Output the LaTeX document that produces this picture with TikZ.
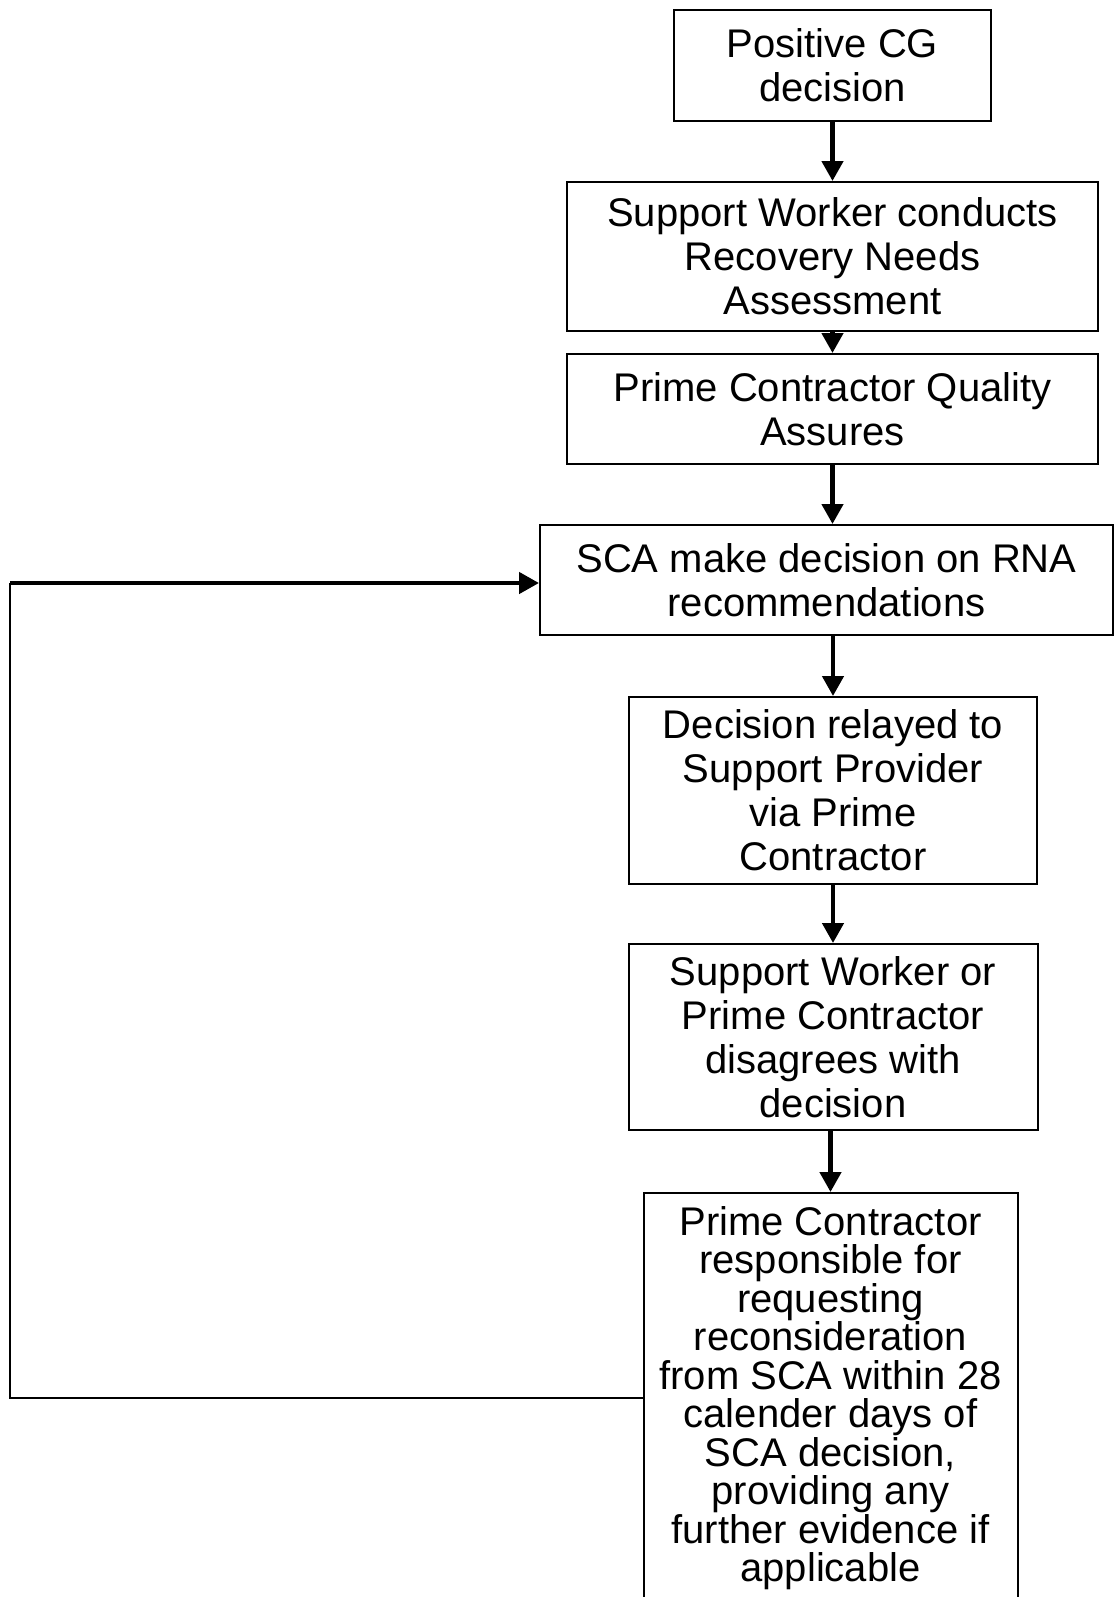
\documentclass[tikz,border=0pt]{standalone}
\usepackage{fontspec}
\setmainfont{Liberation Sans}
\usetikzlibrary{arrows.meta,positioning}

\begin{document}
\begin{tikzpicture}[x=0.5pt,y=-0.5pt,node distance=30pt]
\tikzstyle{step box}=[rectangle,draw,line width=1pt,align=center,inner sep=2pt,font=\fontsize{20}{22}\selectfont]
\tikzstyle{long box}=[step box,font=\fontsize{20}{19.25}\selectfont]

\tikzset{
	flow/.style={line width=2.25pt,-{Triangle[length=10pt,width=10.5pt]}},
	back line/.style={line width=1.2pt}
}
\useasboundingbox (0,0) rectangle (1116,1597);

      \node[step box,minimum width=158.5pt,minimum height=55.5pt] (cg) at (832.5,65.5) {Positive CG\\decision};
      \node[step box,minimum width=265.5pt,minimum height=74.5pt] (rna) [below=29.5pt of cg] {Support Worker conducts\\Recovery Needs\\Assessment};
      \node[step box,minimum width=265.5pt,minimum height=55pt] (qa) [below=10.5pt of rna] {Prime Contractor Quality\\Assures};
      \node[step box,minimum width=286.5pt,minimum height=55pt] (sca) [below=29.5pt of qa,xshift=-3pt] {SCA make decision on RNA\\recommendations};
      \node[step box,minimum width=204pt,minimum height=93.5pt] (relay) [below=30pt of sca,xshift=3.25pt] {Decision relayed to\\Support Provider\\via Prime\\Contractor};
      \node[step box,minimum width=204.5pt,minimum height=93pt] (disagree) [below=29pt of relay] {Support Worker or\\Prime Contractor\\disagrees with\\decision};
      \node[long box,minimum width=187pt,minimum height=205pt] (recon) [below=30.5pt of disagree,xshift=-1.25pt] {Prime Contractor\\responsible for\\requesting\\reconsideration\\from SCA within 28\\calender days of\\SCA decision,\\providing any\\further evidence if\\applicable};

      \coordinate (lt) at (10,583);

    \draw[flow] (cg) -- (rna);
    \draw[flow] (rna) -- (qa);
    \draw[flow] (qa.south) -- (qa.south |- sca.north);
    \draw[flow] (sca.south -| relay.north) -- (relay.north);
    \draw[flow] (relay) -- (disagree);
    \draw[flow] (disagree.south -| recon.north) -- (recon.north);

    \draw[back line] (recon.west) -| (lt);
    \draw[flow] (lt) -- (lt -| sca.west);
\end{tikzpicture}
\end{document}
